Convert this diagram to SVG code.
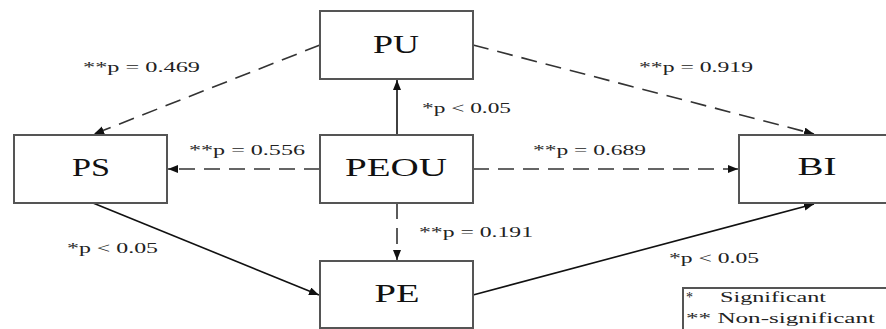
<svg xmlns="http://www.w3.org/2000/svg" width="886" height="329" viewBox="0 0 886 329">
<defs>
<marker id="ah" markerUnits="userSpaceOnUse" markerWidth="12" markerHeight="10" refX="10" refY="4" orient="auto">
<path d="M0,0 L10,4 L0,8 Z" fill="#111"/>
</marker>
</defs>
<style>
.box{fill:#fff;stroke:#555;stroke-width:2}
.nt{font-family:"Liberation Serif",serif;font-size:25px;fill:#111;text-anchor:middle}
.lb{font-family:"Liberation Serif",serif;font-size:14px;fill:#222}
.solid{stroke:#111;stroke-width:1.6;fill:none;marker-end:url(#ah)}
.dash{stroke:#333;stroke-width:1.6;fill:none;stroke-dasharray:16 9;marker-end:url(#ah)}
</style>
<rect width="886" height="329" fill="#fff"/>
<g id="connectors">
<line class="dash" x1="320" y1="45" x2="94" y2="134"/>
<line class="dash" x1="473" y1="45" x2="814" y2="134"/>
<line class="solid" x1="397" y1="135" x2="397" y2="80"/>
<line class="dash" x1="320" y1="169" x2="168" y2="169"/>
<line class="dash" x1="473" y1="169" x2="738" y2="169"/>
<line class="dash" x1="397" y1="203" x2="397" y2="260"/>
<line class="solid" x1="93" y1="203" x2="319" y2="295"/>
<line class="solid" x1="473" y1="295" x2="814" y2="204"/>
</g>
<g id="labels">
<text class="lb" x="83" y="72" textLength="117" lengthAdjust="spacingAndGlyphs">**p = 0.469</text>
<text class="lb" x="639" y="72" textLength="114" lengthAdjust="spacingAndGlyphs">**p = 0.919</text>
<text class="lb" x="422" y="113" textLength="89" lengthAdjust="spacingAndGlyphs">*p &lt; 0.05</text>
<text class="lb" x="189" y="155" textLength="116" lengthAdjust="spacingAndGlyphs">**p = 0.556</text>
<text class="lb" x="533" y="155" textLength="113" lengthAdjust="spacingAndGlyphs">**p = 0.689</text>
<text class="lb" x="419" y="237" textLength="114" lengthAdjust="spacingAndGlyphs">**p = 0.191</text>
<text class="lb" x="67" y="253" textLength="91" lengthAdjust="spacingAndGlyphs">*p &lt; 0.05</text>
<text class="lb" x="669" y="263" textLength="90" lengthAdjust="spacingAndGlyphs">*p &lt; 0.05</text>
</g>
<g id="PU">
<rect class="box" x="320" y="11" width="153" height="68"/>
<text class="nt" x="396" y="53" textLength="46" lengthAdjust="spacingAndGlyphs">PU</text>
</g>
<g id="PS">
<rect class="box" x="14" y="135" width="153" height="68"/>
<text class="nt" x="91" y="176" textLength="38" lengthAdjust="spacingAndGlyphs">PS</text>
</g>
<g id="PEOU">
<rect class="box" x="320" y="135" width="153" height="68"/>
<text class="nt" x="396" y="176" textLength="102" lengthAdjust="spacingAndGlyphs">PEOU</text>
</g>
<g id="BI">
<rect class="box" x="739" y="135" width="160" height="68"/>
<text class="nt" x="817" y="175" textLength="39" lengthAdjust="spacingAndGlyphs">BI</text>
</g>
<g id="PE">
<rect class="box" x="320" y="261" width="153" height="67"/>
<text class="nt" x="397" y="302" textLength="45" lengthAdjust="spacingAndGlyphs">PE</text>
</g>
<g id="legend">
<rect class="box" x="683" y="288" width="220" height="50"/>
<text class="lb" x="686" y="302">*</text>
<text class="lb" x="720" y="302" textLength="106" lengthAdjust="spacingAndGlyphs">Significant</text>
<text class="lb" x="686" y="323" textLength="189" lengthAdjust="spacingAndGlyphs">** Non-significant</text>
</g>
</svg>
